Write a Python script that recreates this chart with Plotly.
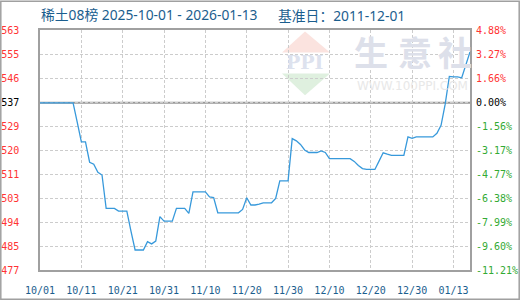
import plotly.graph_objects as go
import pandas as pd

start_date = "2025-10-01"
values = [
    537, 537, 537, 537, 537, 537, 537, 537, 537, 530.0,
    522.9, 522.9, 515.6, 514.9, 512.0, 511.0, 499.0, 499.0, 499.0, 498.0,
    498.0, 498.0, 490.8, 484.0, 484.0, 484.0, 487.0, 486.2, 487.2, 496.0,
    494.4, 494.4, 494.4, 499.0, 499.0, 499.0, 497.2, 504.9, 504.9, 504.9,
    504.9, 503.1, 502.9, 497.4, 497.4, 497.4, 497.4, 497.4, 497.4, 498.6,
    502.8, 500.2, 500.2, 500.5, 501.0, 501.0, 501.0, 502.6, 508.9, 508.9,
    508.9, 524.1, 523.3, 522.0, 520.0, 519.1, 519.1, 519.1, 519.7, 519.1,
    516.9, 516.9, 516.9, 516.9, 516.9, 516.9, 515.9, 514.4, 513.3, 513.0,
    513.0, 513.0, 516.0, 519.0, 518.5, 518.1, 518.1, 518.1, 518.1, 524.7,
    524.2, 524.7, 524.7, 524.7, 524.7, 524.7, 526.0, 528.9, 536.5, 546.5,
    546.3, 546.3, 546.0, 551.0, 555.3,
]
dates = pd.date_range(start_date, periods=len(values), freq="D")

base_value = 537.0
left_labels = ["563", "555", "546", "537", "529", "520", "511", "503", "494", "485", "477"]
right_labels = ["4.88%", "3.27%", "1.66%", "0.00%", "-1.56%", "-3.17%", "-4.77%",
                "-6.38%", "-7.99%", "-9.60%", "-11.21%"]
pct_top, pct_bottom = 4.88, -11.21
x_tick_dates = ["2025-10-01", "2025-10-11", "2025-10-21", "2025-10-31", "2025-11-10",
                "2025-11-20", "2025-11-30", "2025-12-10", "2025-12-20", "2025-12-30",
                "2026-01-09"]
x_tick_labels = ["10/01", "10/11", "10/21", "10/31", "11/10", "11/20", "11/30",
                 "12/10", "12/20", "12/30", "01/13"]

RED, GREEN, BLACK = "#ff3333", "#33aa33", "#000000"
def col(lbl):
    if lbl.startswith("-"):
        return GREEN
    if lbl in ("537", "0.00%"):
        return BLACK
    return RED

y_top = base_value * (1 + pct_top / 100)
y_bot = base_value * (1 + pct_bottom / 100)
n = len(left_labels)
y_ticks = [y_top - k * (y_top - y_bot) / (n - 1) for k in range(n)]
p_ticks = [pct_top - k * (pct_top - pct_bottom) / (n - 1) for k in range(n)]

# plot-area geometry in pixels (for placing decorations)
PL, PR, PT, PB = 40, 470, 29.5, 270
def px(x):
    return (x - PL) / (PR - PL)
def py(y):
    return (PB - y) / (PB - PT)

SANS = "Noto Sans, Noto Sans CJK SC, DejaVu Sans, sans-serif"
MONO = "DejaVu Sans Mono, Liberation Mono, monospace"

fig = go.Figure()
fig.add_trace(go.Scatter(x=dates, y=values, mode="lines",
                         line=dict(color="#3799db", width=1.3), hoverinfo="skip"))
fig.add_trace(go.Scatter(x=dates, y=[(v / base_value - 1) * 100 for v in values],
                         yaxis="y2", mode="lines", line=dict(color="rgba(0,0,0,0)", width=0),
                         hoverinfo="skip"))

tickfont = dict(family=MONO, size=10)
fig.update_layout(
    width=520, height=300, margin=dict(l=PL, r=520 - PR, t=PT, b=300 - PB),
    paper_bgcolor="white", plot_bgcolor="white", showlegend=False,
    xaxis=dict(type="date", range=[dates[0], dates[-1]], tickvals=x_tick_dates,
               ticktext=x_tick_labels, tickfont=dict(family=MONO, size=10, color="#1b5e8e"),
               showgrid=True, gridcolor="#cccccc", griddash="3px,2px", gridwidth=1,
               showline=True, linecolor="#a0a0a0", linewidth=1.5, mirror=True,
               ticks="", ticklabelstandoff=10, zeroline=False, automargin=False),
    yaxis=dict(range=[y_bot, y_top], tickvals=y_ticks,
               ticktext=[f'<span style="color:{col(t)}">{t}</span>' for t in left_labels],
               tickfont=tickfont, showgrid=True, gridcolor="#cccccc", griddash="3px,2px",
               showline=True, linecolor="#a0a0a0", linewidth=1.5, mirror=True,
               ticks="", ticklabelstandoff=17, zeroline=False, automargin=False),
    yaxis2=dict(range=[pct_bottom, pct_top], tickvals=p_ticks, overlaying="y", side="right",
                ticktext=[f'<span style="color:{col(t)}">{t}</span>' for t in right_labels],
                tickfont=tickfont, showgrid=False, showline=False, zeroline=False,
                ticks="", ticklabelstandoff=5, automargin=False),
)

# base line
fig.add_shape(type="line", xref="paper", x0=0, x1=1, yref="y", y0=base_value, y1=base_value,
              line=dict(color="#999999", width=2), layer="below")
# outer frame
fig.add_shape(type="rect", xref="paper", yref="paper",
              x0=px(0.8), x1=px(519.2), y0=py(299.2), y1=py(0.8),
              line=dict(color="#a0a0a0", width=1.5))

# watermark logo
fig.add_shape(type="path", xref="paper", yref="paper", layer="below",
              path=f"M {px(305)} {py(31)} L {px(330)} {py(52)} L {px(282)} {py(52)} Z",
              fillcolor="#fbe3df", line=dict(width=0))
fig.add_shape(type="path", xref="paper", yref="paper", layer="below",
              path=f"M {px(305)} {py(95)} L {px(330)} {py(73)} L {px(282)} {py(73)} Z",
              fillcolor="#dff0df", line=dict(width=0))
fig.add_annotation(x=px(305), y=py(62), xanchor="center", yanchor="middle", xref="paper", yref="paper",
                   text="<b>PPI</b>", showarrow=False,
                   font=dict(family="DejaVu Serif", size=19, color="#dde2ee"))
for ch, cx in zip(["生", "意", "社"], [371, 415, 455]):
    fig.add_annotation(x=px(cx), y=py(51), xanchor="center", yanchor="middle", xref="paper", yref="paper",
                       text=f"<b>{ch}</b>", showarrow=False,
                       font=dict(family="Noto Sans CJK SC", size=34, color="#dde0ea"))
fig.add_annotation(x=px(355), xanchor="left", y=py(86), yanchor="middle", xref="paper", yref="paper",
                   text="WWW.100PPI.COM", showarrow=False,
                   font=dict(family="DejaVu Sans", size=12, color="#e8e8e8"))

# titles
fig.add_annotation(x=px(39), xanchor="left", y=py(14), yanchor="middle", xref="paper", yref="paper",
                   text="稀土08榜 2025-10-01 - 2026-01-13", showarrow=False,
                   font=dict(family=SANS, size=13.8, color="#1b5e8e"))
fig.add_annotation(x=px(276), xanchor="left", y=py(15), yanchor="middle",
                   xref="paper", yref="paper", text="基准日：2011-12-01", showarrow=False,
                   font=dict(family=SANS, size=13.8, color="#1b5e8e"))

fig.write_html("out.html")
